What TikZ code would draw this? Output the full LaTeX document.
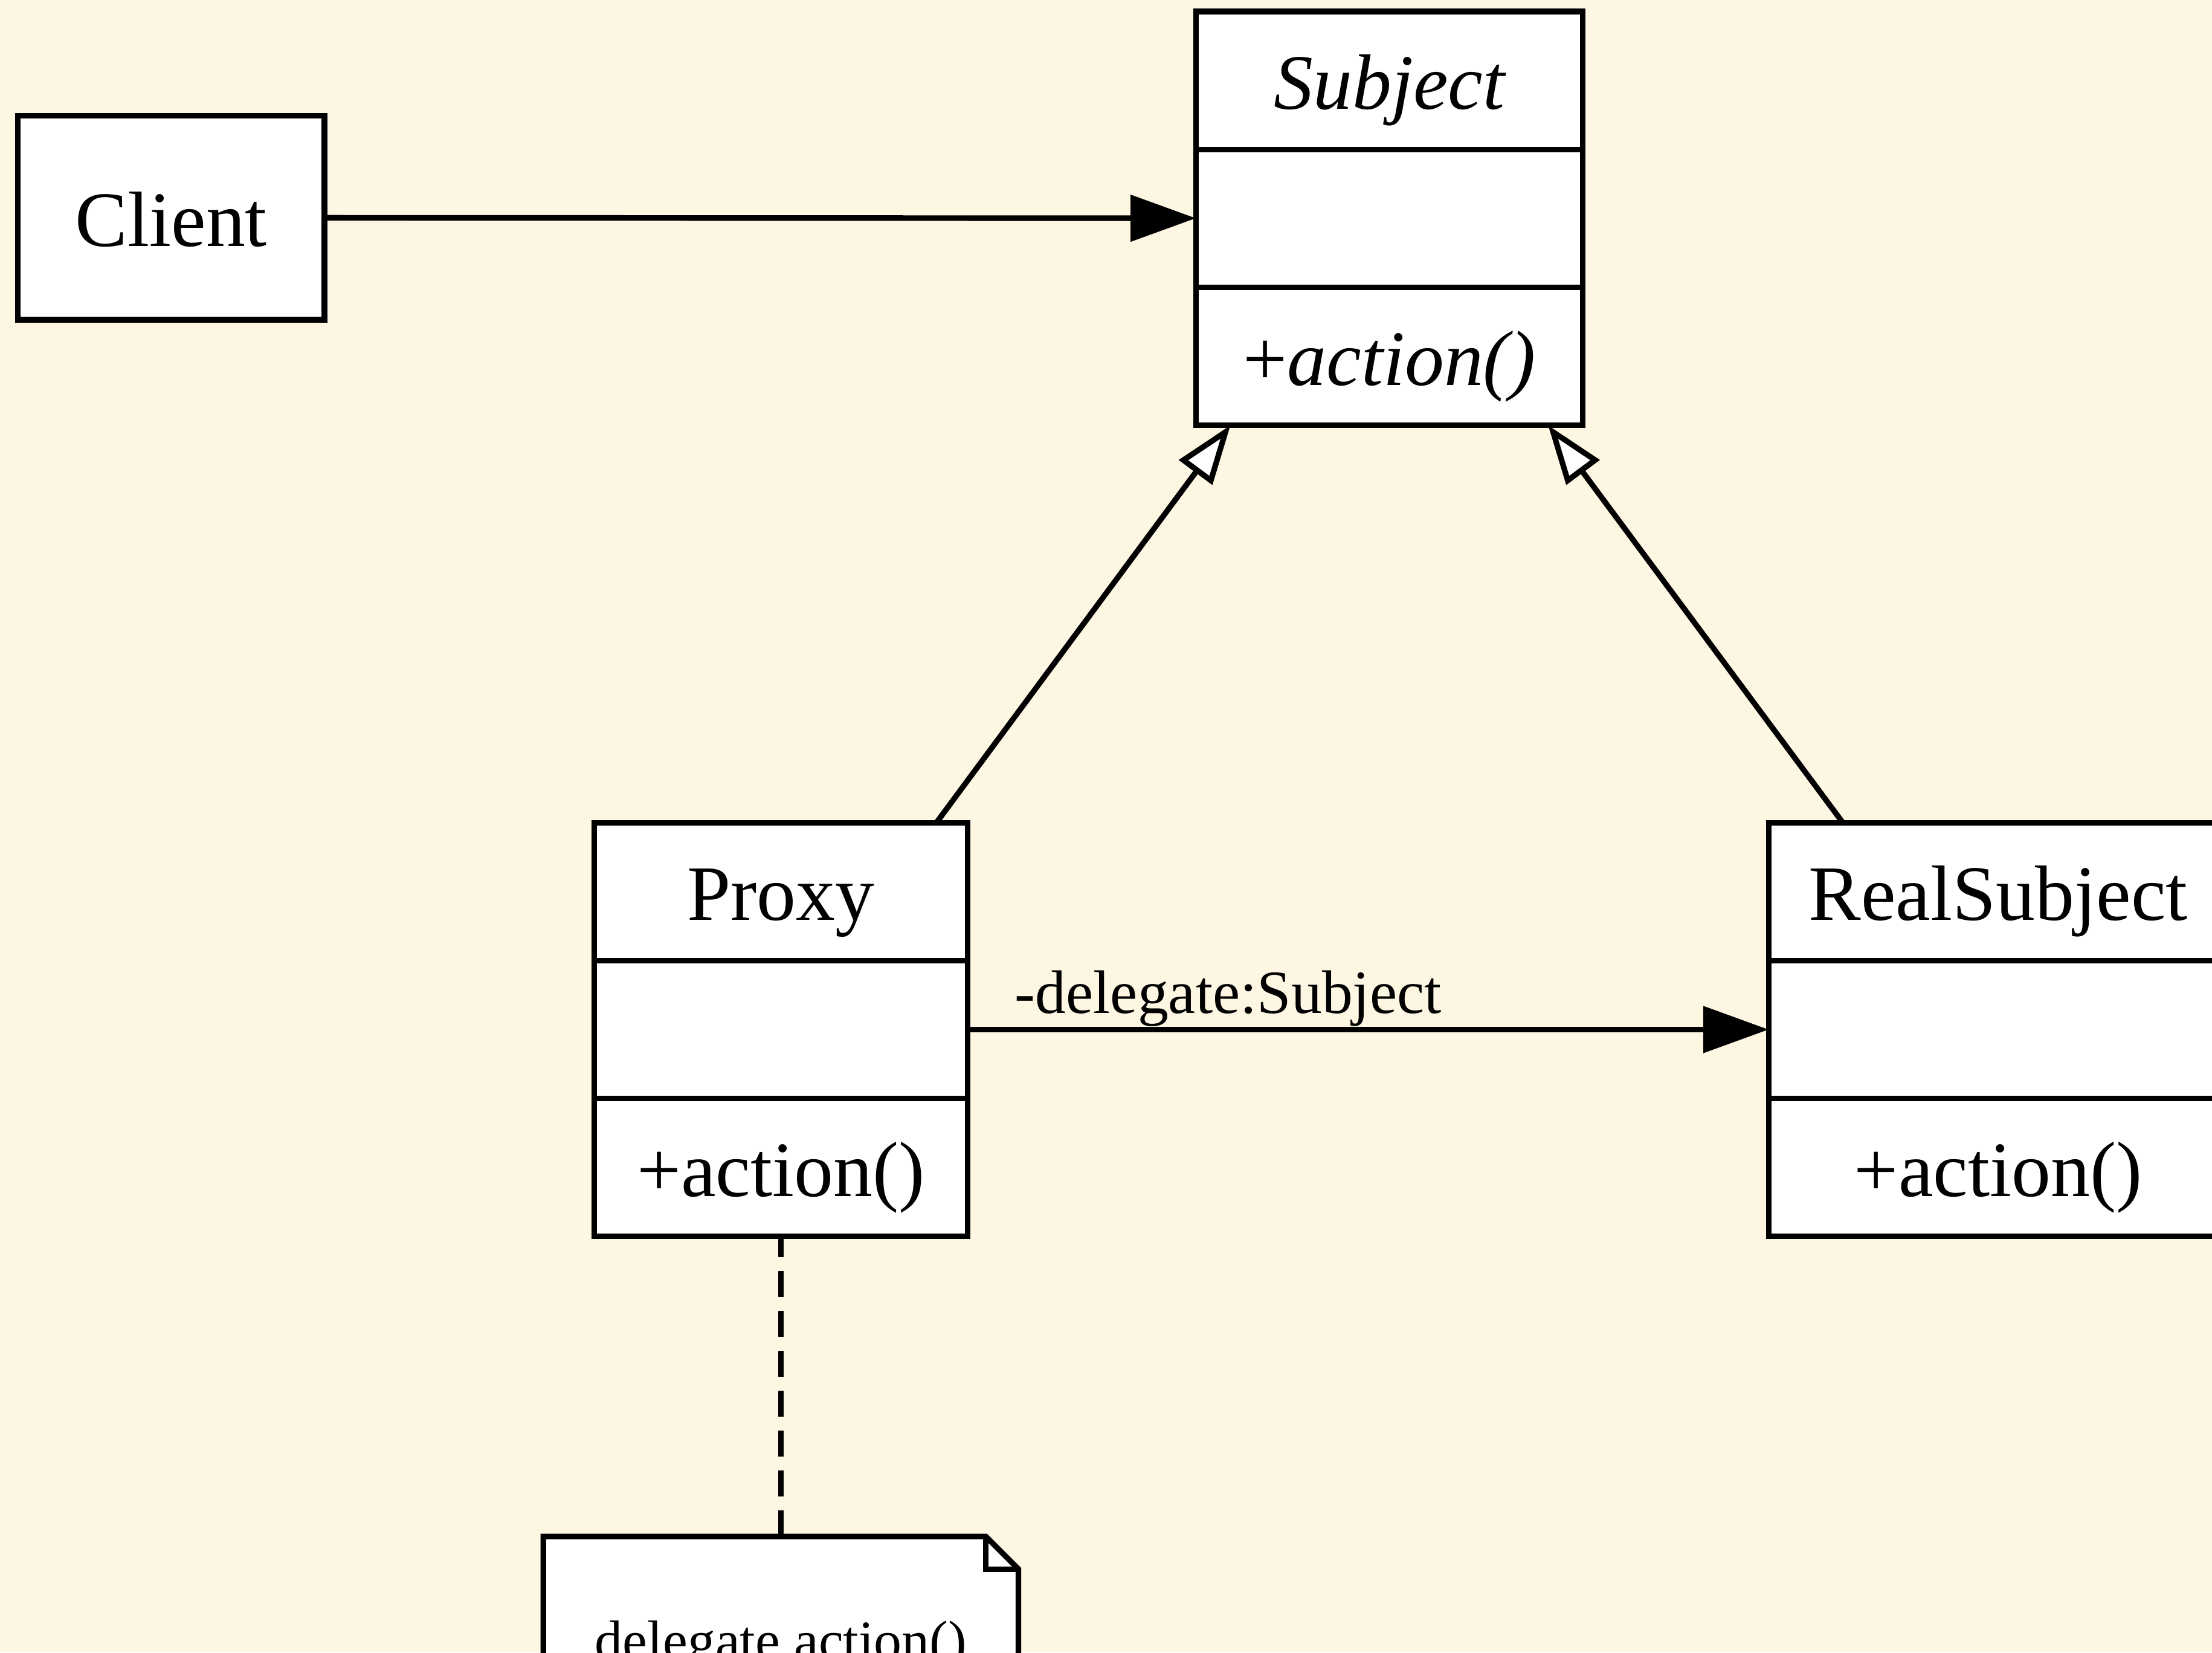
\documentclass[tikz,border=0pt]{standalone}
\usepackage{fontspec}
\setmainfont{Liberation Serif}
\usetikzlibrary{arrows.meta,positioning}
\definecolor{paper}{HTML}{FDF6E3}

\begin{document}
\begin{tikzpicture}[x=1pt,y=1pt,
    box/.style={draw,fill=white,line width=0.85pt,inner sep=0pt,outer sep=0pt,
                minimum height=21.1pt,text height=8.8pt,text depth=0pt,
                font=\fontsize{12}{14}\selectfont},
    link/.style={line width=0.85pt,-{Triangle[length=10pt,width=7pt]}},
    isa/.style={line width=0.85pt,-{Triangle[open,fill=white,length=9pt,width=6.2pt]}},
    lbl/.style={font=\fontsize{9.4}{11}\selectfont,inner sep=0pt},
    notelbl/.style={font=\fontsize{8.5}{10}\selectfont,inner sep=0pt,text height=7.8pt,text depth=0pt}]
  \fill[paper] (0,0) rectangle (338.5,-252.8);
  \clip (0,0) rectangle (338.5,-252.8);

  % client
  \node[box,minimum width=46.9pt,minimum height=31.2pt] (client) at (26.2,-33.3) {Client};

  % abstract subject
  \node[box,minimum width=59.2pt] (subj) at (212.6,-12.3) {\itshape Subject};
  \node[box,minimum width=59.2pt,below=0pt of subj] (subjattr) {};
  \node[box,minimum width=59.2pt,below=0pt of subjattr] (subjops) {+\textit{action()}};

  % proxy
  \node[box,minimum width=57.2pt] (proxy) at (119.5,-136.4) {Proxy};
  \node[box,minimum width=57.2pt,below=0pt of proxy] (proxyattr) {};
  \node[box,minimum width=57.2pt,below=0pt of proxyattr] (proxyops) {+action()};

  % real subject
  \node[box,minimum width=70.3pt] (real) at (305.8,-136.4) {RealSubject};
  \node[box,minimum width=70.3pt,below=0pt of real] (realattr) {};
  \node[box,minimum width=70.3pt,below=0pt of realattr] (realops) {+action()};

  % note
  \node[inner sep=0pt,outer sep=0pt,minimum width=72.7pt,minimum height=29.8pt,
        below=45.9pt of proxyops] (note) {};
  \filldraw[fill=white,line width=0.85pt] (note.north west) -- ([xshift=-5pt]note.north east)
      -- ([yshift=-5pt]note.north east) -- (note.south east) -- (note.south west) -- cycle;
  \draw[line width=0.85pt] ([xshift=-5pt]note.north east) |- ([yshift=-5pt]note.north east);
  \node[notelbl] (notetext) at (note.center) {delegate.action()};

  \draw[link] (client) -- (subjattr);
  \draw[link] (proxyattr) -- node[lbl,anchor=base west,pos=0,xshift=6.8pt,yshift=2.5pt] {-delegate:Subject} (realattr);
  \draw[isa] ([xshift=23.8pt]proxy.north) -- ([xshift=-24.3pt]subjops.south);
  \draw[isa] ([xshift=-23.8pt]real.north) -- ([xshift=24.3pt]subjops.south);
  \draw[line width=0.85pt,dash pattern=on 4pt off 2.1pt] (note) -- (proxyops);
\end{tikzpicture}
\end{document}
